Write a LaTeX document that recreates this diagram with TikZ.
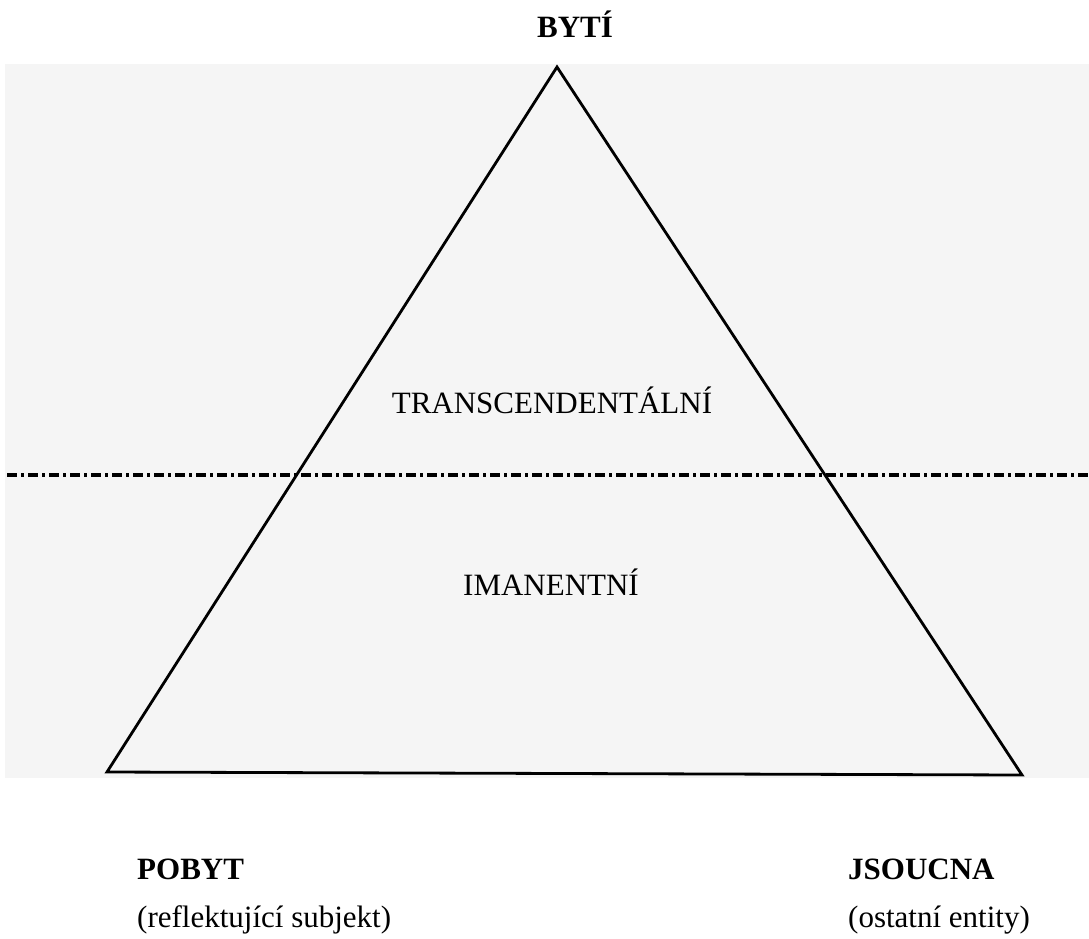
\documentclass[tikz,border=0pt]{standalone}
\usepackage{fontspec}
\setmainfont{Liberation Serif}
\begin{document}
\begin{tikzpicture}[x=1pt,y=-1pt,
  lbl/.style={inner sep=0pt,font=\fontsize{31}{37}\selectfont},
  blbl/.style={lbl,font=\fontsize{31}{37}\selectfont\bfseries},
  tri/.style={line width=2.8pt,line join=miter},
  divider/.style={line width=3.2pt,dash pattern=on 10pt off 4pt on 3pt off 4pt}]
\useasboundingbox (0,0) rectangle (1089,939);
\fill[black!4] (5,64) rectangle (1089,778);
% divider
\coordinate (dl) at (7,475);
\coordinate (dr) at (1089,475);
\draw[divider] (dl) -- (dr);
% triangle
\coordinate (apex) at (557,67);
\coordinate (bl) at (107,772);
\coordinate (br) at (1022,775);
\draw[tri] (apex) -- (bl) -- (br) -- cycle;
% labels
\node[blbl,anchor=base] (byti) at (575,38) {BYTÍ};
\node[lbl,anchor=base] (trans) at (552,413) {TRANSCENDENTÁLNÍ};
\node[lbl,anchor=base] (iman) at (551,595) {IMANENTNÍ};
\node[blbl,anchor=base west] (pobyt) at (137,879) {POBYT};
\node[lbl,anchor=base west] (refl) at (137,927) {(reflektující subjekt)};
\node[blbl,anchor=base west] (jsoucna) at (848,879) {JSOUCNA};
\node[lbl,anchor=base west] (ost) at (848,927) {(ostatní entity)};
\end{tikzpicture}
\end{document}
